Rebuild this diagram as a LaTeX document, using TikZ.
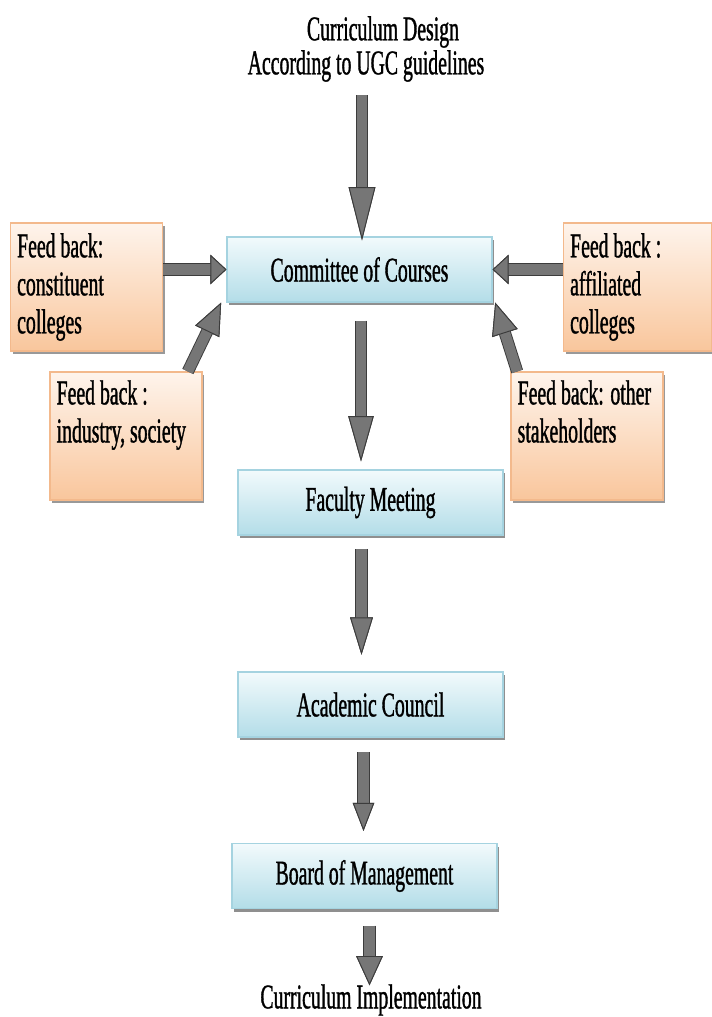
\documentclass[tikz,border=0pt]{standalone}
\usepackage{fontspec}
\setmainfont[FakeStretch=0.57,FakeBold=1]{Liberation Serif}
\usetikzlibrary{arrows.meta,shadows,positioning}
\definecolor{bluetop}{HTML}{F2FAFC}
\definecolor{bluebot}{HTML}{B3DDE8}
\definecolor{blueline}{HTML}{A5D3E0}
\definecolor{orgtop}{HTML}{FEF4EC}
\definecolor{orgbot}{HTML}{F9C69C}
\definecolor{orgline}{HTML}{F3B98C}
\definecolor{arrowgray}{HTML}{767676}
\definecolor{arrowdark}{HTML}{3C3C3C}
\begin{document}
\begin{tikzpicture}[x=0.75pt,y=-0.75pt,
  every node/.style={font=\fontsize{26}{28.5}\selectfont},
  stage/.style={draw=blueline, line width=0.8pt, top color=bluetop, bottom color=bluebot,
    minimum width=198.75pt, minimum height=48.75pt, inner sep=0pt,
    drop shadow={shadow xshift=1.5pt, shadow yshift=-2.5pt, fill=black!55, opacity=0.8}},
  feedbox/.style={draw=orgline, line width=0.8pt, top color=orgtop, bottom color=orgbot,
    minimum width=114pt, minimum height=96pt, inner xsep=5pt, inner ysep=0pt,
    text width=104pt, align=flush left,
    drop shadow={shadow xshift=1.5pt, shadow yshift=-2.5pt, fill=black!50, opacity=0.8}},
  plain/.style={inner sep=0pt},
  blockarrow/.style={draw=arrowgray, line width=7.8pt,
    preaction={draw=arrowdark, line width=9.2pt}},
  head/.style 2 args={-{Triangle[width=#1,length=#2,fill=arrowgray,color=arrowdark,line width=0.7pt]}}
]
\useasboundingbox (0,0) rectangle (711,1017);

% titles
\node[plain] (t1) at (383,32) {Curriculum Design};
\node[plain] (t2) at (366,66) {According to UGC guidelines};
\node[plain] (impl) at (371,1000) {Curriculum Implementation};

% stages
\node[stage] (comm) at (359.5,269.5) {Committee of Courses};
\node[stage] (fac)  at (370.5,502.5) {Faculty Meeting};
\node[stage] (acad) at (370.5,704.5) {Academic Council};
\node[stage] (board) at (364.5,876) {Board of Management};

% feedback boxes
\node[feedbox] (cons) at (86.5,287) {Feed back:\\constituent\\colleges};
\node[feedbox] (ind)  at (126,436) {Feed back :\\industry, society\\\strut};
\node[feedbox, minimum width=111pt, text width=101pt] (aff) at (637.5,287) {Feed back :\\affiliated\\colleges};
\node[feedbox] (oth)  at (587,436) {Feed back: other\\stakeholders\\\strut};

% vertical positions of the block arrows
\coordinate (x0) at (362,95);
\coordinate (x1) at (361,0);
\coordinate (x2) at (361.5,0);
\coordinate (x3) at (363.5,0);
\coordinate (x4) at (369.5,0);

% block arrows
\draw[blockarrow, head={20pt}{40pt}] (x0) -- ([yshift=-3pt]comm.north -| x0);
\draw[blockarrow, head={19pt}{34pt}] ([yshift=-13.5pt]comm.south -| x1) -- ([yshift=6pt]fac.north -| x1);
\draw[blockarrow, head={17pt}{28pt}] ([yshift=-10pt]fac.south -| x2) -- ([yshift=12.5pt]acad.north -| x2);
\draw[blockarrow, head={16pt}{21pt}] ([yshift=-11pt]acad.south -| x3) -- ([yshift=9pt]board.north -| x3);
\draw[blockarrow, head={20pt}{22pt}] ([yshift=-12.5pt]board.south -| x4) -- ([yshift=-1pt]impl.north -| x4);

\draw[blockarrow, head={22pt}{12pt}] (cons.east |- comm.west) -- (comm.west);
\draw[blockarrow, head={22pt}{12pt}] (aff.west |- comm.east) -- (comm.east);
\draw[blockarrow, head={20pt}{24pt}] ([xshift=-11pt]ind.north east) -- ([xshift=-4pt]comm.south west);
\draw[blockarrow, head={20pt}{24pt}] ([xshift=5pt]oth.north west) -- ([xshift=2pt]comm.south east);
\end{tikzpicture}
\end{document}
